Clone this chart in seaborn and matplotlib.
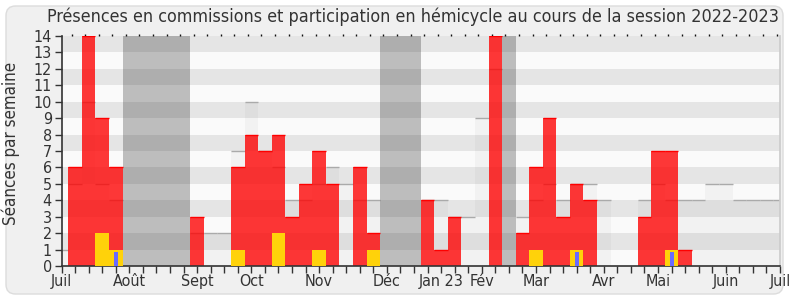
import numpy as np
import pandas as pd
import matplotlib
matplotlib.use("Agg")
import matplotlib.pyplot as plt
import seaborn as sns
from matplotlib.patches import FancyBboxPatch

# ---------------- data ----------------
weeks = list(range(54))
presence = [0, 6, 14, 9, 6, 0, 0, 0, 0, 0,
            3, 0, 0, 6, 8, 7, 8, 3, 5, 7,
            5, 0, 6, 2, 0, 0, 0, 4, 1, 3,
            0, 0, 14, 0, 2, 6, 9, 3, 5, 4,
            0, 0, 0, 3, 7, 7, 1, 0, 0, 0,
            0, 0, 0, 0]
median = [1, 5, 10, 5, 4, 0, 0, 0, 0, 0,
          2, 2, 2, 7, 10, 7, 6, 4, 4, 5,
          6, 5, 4, 4, 0, 0, 0, 4, 4, 3,
          3, 9, 12, 0, 3, 4, 5, 4, 5, 5,
          4, 0, 0, 4, 5, 4, 4, 4, 5, 5,
          4, 4, 4, 4]
interventions = [0, 0, 0, 2, 1, 0, 0, 0, 0, 0,
                 0, 0, 0, 1, 0, 0, 2, 0, 0, 1,
                 0, 0, 0, 1, 0, 0, 0, 0, 0, 0,
                 0, 0, 0, 0, 0, 1, 0, 0, 1, 0,
                 0, 0, 0, 0, 0, 1, 0, 0, 0, 0,
                 0, 0, 0, 0]
questions = [0, 0, 0, 0, 0.85, 0, 0, 0, 0, 0,
             0, 0, 0, 0, 0, 0, 0, 0, 0, 0,
             0, 0, 0, 0, 0, 0, 0, 0, 0, 0,
             0, 0, 0, 0, 0, 0, 0, 0, 0.85, 0,
             0, 0, 0, 0, 0, 0.85, 0, 0, 0, 0,
             0, 0, 0, 0]
vacation_weeks = [5, 6, 7, 8, 9, 24, 25, 26, 33]
month_pos = [0, 5, 10, 14, 19, 24, 28, 31, 35, 40, 44, 49, 53]
month_labels = ["Juil", "Août", "Sept", "Oct", "Nov", "Déc", "Jan 23",
                "Fév", "Mar", "Avr", "Mai", "Juin", "Juil"]
y_max = 14
title = "Présences en commissions et participation en hémicycle au cours de la session 2022-2023"
ylabel = "Séances par semaine"

df = pd.DataFrame({"week": weeks, "presence": presence, "median": median,
                   "interventions": interventions, "questions": questions})
df["vacation"] = [y_max if w in vacation_weeks else 0 for w in weeks]

# ---------------- style ----------------
sns.set_theme(style="white")
plt.rcParams["font.family"] = ["DejaVu Sans"]
plt.rcParams["font.stretch"] = "condensed"
TXT = "#333333"

fig = plt.figure(figsize=(7.9, 3.0), dpi=100)
fig.patch.set_facecolor("white")
bg = FancyBboxPatch((6 / 790, 6 / 300), 777 / 790, 288 / 300,
                    boxstyle="round,pad=0,rounding_size=0.012",
                    mutation_aspect=790 / 300,
                    transform=fig.transFigure, facecolor="#f0f0f0",
                    edgecolor="#dcdcdc", linewidth=1.0, zorder=-10)
fig.patches.append(bg)

ax = fig.add_axes([61.5 / 790, 34 / 300, 718.5 / 790, 230 / 300])
ax.set_facecolor("#fafafa")

# horizontal stripes
for k in range(y_max):
    if k % 2 == 1:
        ax.axhspan(k, k + 1, color="#e5e5e5", lw=0, zorder=0)

common = dict(x="week", native_scale=True, width=1, saturation=1,
              errorbar=None, linewidth=0, ax=ax)

# median (light grey) bars
sns.barplot(data=df, y="median", color="#8c8c8c", alpha=0.07, zorder=1, **common)
m = df[df["median"] > 0]
ax.hlines(m["median"], m["week"] - 0.5, m["week"] + 0.5, color="#aaaaaa",
          lw=1.0, zorder=1.2)

# vacation bands
sns.barplot(data=df, y="vacation", color="#282828", alpha=0.286, zorder=1.5, **common)

# presence (red)
sns.barplot(data=df, y="presence", color="#ff0000", alpha=0.78, zorder=2, **common)
p = df[df["presence"] > 0]
ax.hlines(p["presence"], p["week"] - 0.5, p["week"] + 0.5, color="#ff0000",
          lw=1.0, zorder=2.1)

# interventions (yellow)
sns.barplot(data=df, y="interventions", color="#ffd20a", alpha=1, zorder=3, **common)

# questions (blue, narrow)
cq = dict(common)
cq["width"] = 0.3
sns.barplot(data=df, y="questions", color="#6b6bff", alpha=1, zorder=4, **cq)

ax.set_xlim(0, 53)
ax.set_ylim(0, y_max)

# ticks
ax.set_xticks(weeks)
lbls = [""] * len(weeks)
for pos, lab in zip(month_pos, month_labels):
    lbls[pos] = lab
ax.set_xticklabels(lbls)
ax.set_yticks(range(0, y_max + 1))
ax.tick_params(axis="x", direction="out", length=5, width=1, color=TXT,
               labelsize=11.5, labelcolor=TXT, pad=1, bottom=True)
ax.tick_params(axis="y", direction="out", length=5, width=1, color=TXT,
               labelsize=11.5, labelcolor=TXT, pad=2, left=True)

sec = ax.secondary_xaxis("top")
sec.set_xticks([w - 0.25 for w in weeks])
sec.set_xticklabels([])
sec.tick_params(direction="out", length=1.5, width=1, color="#111111")
sec.spines["top"].set_visible(False)

ax.spines["top"].set_visible(False)
ax.spines["right"].set_color("#cccccc")
ax.spines["left"].set_color(TXT)
ax.spines["bottom"].set_color(TXT)
ax.spines["left"].set_linewidth(1.2)
ax.spines["bottom"].set_linewidth(1.2)

ax.set_xlabel("")
ax.set_ylabel(ylabel, fontsize=12.2, color=TXT)
ax.yaxis.set_label_coords(-0.0575, 0.535)
fig.text(412.5 / 790, 1 - 16.5 / 300, title, ha="center", va="center",
         fontsize=12.9, color=TXT)

fig.savefig("out.png", dpi=100, facecolor=fig.get_facecolor())
